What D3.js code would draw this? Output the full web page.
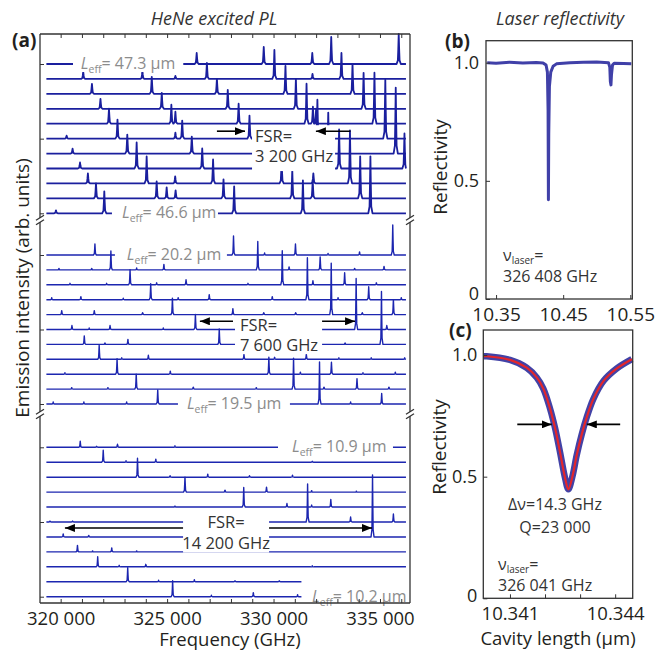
<!DOCTYPE html>
<html>
<head>
<meta charset="utf-8">
<script src="https://cdn.jsdelivr.net/npm/d3@7"></script>
<style>
  body { margin: 0; background: #fff; }
  text { font-family: "Open Sans", sans-serif; }
</style>
</head>
<body>
<div id="chart"></div>
<script>
// ---------- data ----------
const freqTicks = [320000, 325000, 330000, 335000];
const traceSpan = [319330, 336220];

// peaks per trace: [frequency (GHz), height (arb. units)], top trace first
const peaksLong = [
  [[326390,1.1],[329540,1.7],[331820,1.1],[332710,2.7],[335880,3.0]],
  [[321060,0.7],[323840,0.8],[325390,0.3],[326870,1.6],[330040,2.9],[331830,0.5],[333190,2.6]],
  [[321470,1.0],[324280,1.7],[327340,1.5],[330560,2.8],[333710,3.0]],
  [[321870,1.0],[324750,1.6],[327850,1.9],[331050,3.0],[334230,3.6]],
  [[322270,1.5],[325200,1.9],[325390,1.2],[328360,2.0],[331550,4.0],[331850,1.7],[332000,1.5],[334740,5.1]],
  [[320280,0.3],[322670,1.9],[325390,0.6],[325710,1.8],[328870,2.3],[332060,3.9],[335250,5.9]],
  [[320560,0.5],[323130,1.9],[326160,1.7],[329350,2.2],[332570,4.1],[335740,6.6]],
  [[320910,0.6],[323570,2.6],[326650,2.0],[329870,2.4],[333080,3.9],[336150,3.5]],
  [[321280,1.0],[324040,2.7],[325380,0.7],[327160,2.4],[330380,2.3],[331870,1.0],[333590,5.3]],
  [[321660,1.5],[324510,1.7],[324980,1.1],[325400,0.8],[327650,1.9],[330880,2.8],[331840,1.8],[334070,4.2]],
  [[319780,0.3],[322050,2.2],[328150,2.7],[331380,3.3],[334550,5.7]]
];
const peaksMid = [
  [[321610,1.1],[328120,1.9],[329580,0.2],[331030,1.1],[332560,0.15],[334040,0.3],[335600,3.0]],
  [[319920,0.15],[321460,0.15],[322360,1.9],[323570,0.2],[324850,0.55],[329260,2.85],[330730,0.3],[332190,1.3],[333810,0.15],[335190,0.35]],
  [[320440,0.15],[322160,0.15],[323260,1.5],[324510,0.2],[325890,0.5],[328800,0.15],[330410,3.4],[331850,0.4],[333340,1.2],[334830,0.2]],
  [[319580,0.2],[320950,0.3],[322940,0.15],[324230,1.6],[325520,0.2],[326980,0.5],[329940,0.3],[331590,4.2],[333030,0.2],[334470,1.3],[336000,0.2]],
  [[320050,0.4],[321580,0.4],[323850,0.2],[325250,1.65],[328090,0.6],[329540,0.2],[331040,0.2],[332710,5.15],[334170,0.2],[335630,1.5]],
  [[320530,0.4],[321340,0.15],[322320,0.4],[324820,0.15],[326330,1.5],[333880,5.1],[335320,0.4]],
  [[321110,0.85],[322080,0.15],[323160,0.5],[327450,1.55],[333360,0.15],[335070,5.3]],
  [[321810,1.4],[322870,0.15],[324120,0.4],[328610,0.5],[330050,0.2],[331540,0.5],[333070,0.15],[334590,0.15],[336160,0.15]],
  [[320200,0.15],[322650,1.55],[325150,0.3],[329780,1.7],[331260,0.2],[332720,1.2],[334200,0.15],[335720,0.2]],
  [[320520,0.15],[322220,0.15],[323550,1.5],[326230,0.2],[329190,0.15],[330940,3.1],[332370,0.2],[333920,1.05],[335420,0.2]],
  [[319650,0.2],[321090,0.2],[323100,0.2],[324560,1.4],[332160,4.2],[333620,0.2],[335080,1.05]]
];
const peaksShort = [
  [[320920,0.6],[321690,0.1],[322670,0.3],[325370,0.15]],
  [[322000,1.2],[323070,0.15],[324470,0.3],[331820,0.1]],
  [[323610,1.9],[325140,0.15],[326910,0.3],[328870,0.15],[330890,0.2]],
  [[325840,1.5],[327720,0.2],[329670,0.5],[331790,0.15],[333890,0.1]],
  [[325370,0.1],[328600,1.95],[330630,0.35],[331790,0.2],[332690,0.75]],
  [[319500,0.1],[320560,0.1],[331600,3.8],[333620,0.5],[335630,0.8]],
  [[320120,0.3],[321320,0.15],[334650,6.2]],
  [[320790,0.65],[321500,0.1],[322400,0.4],[323570,0.1]],
  [[321740,1.0],[322750,0.15],[324000,0.25],[331820,0.1]],
  [[323150,1.4],[324600,0.15],[326280,0.2],[328190,0.1],[330270,0.1]],
  [[325260,1.6],[327080,0.15],[329050,0.4],[331130,0.2]]
];
const shortTraceEnds = [336220,336220,336220,336220,336220,336220,336220,336220,336220,331310,331310];

const leffTop = ["47.3", "20.2", "10.9"];
const leffBottom = ["46.6", "19.5", "10.2"];
const fsrText = ["3 200 GHz", "7 600 GHz", "14 200 GHz"];

// panel (b): laser reflectivity vs cavity length (um)
const lenB = [10.3368,10.350,10.370,10.390,10.410,10.420,10.4245,10.4265,10.4275,10.4280,10.4285,10.4295,10.4315,10.4350,10.4400,10.460,10.480,10.500,10.5175,10.5195,10.5203,10.5212,10.5220,10.5235,10.5260,10.540,10.5515];
const reflB = [1.000,0.998,1.002,0.999,1.001,0.999,0.990,0.960,0.800,0.420,0.700,0.900,0.960,0.985,0.995,1.000,1.002,1.003,1.000,0.980,0.920,0.906,0.950,0.990,0.998,0.996,0.995];

// panel (c): zoom on one resonance, fit
const lenC = [10.340243,10.340334,10.341000,10.341477,10.341763,10.341951,10.342143,10.342286,10.342429,10.342571,10.342666,10.342780,10.342906,10.343049,10.343191,10.343380,10.343666,10.344049,10.344477];
const reflC = [0.995,0.995,0.980,0.948,0.908,0.862,0.780,0.700,0.600,0.495,0.448,0.500,0.590,0.675,0.745,0.820,0.893,0.945,0.983];

// ---------- drawing ----------
const W = 663, H = 652;
const svg = d3.select('#chart').append('svg')
    .attr('width', W).attr('height', H)
    .attr('viewBox', `0 0 ${W} ${H}`);

const dark = '#333';
const blue = '#1c26b0';
const ink = '#231f20';

// arrow marker
svg.append('defs').append('marker')
    .attr('id', 'arr')
    .attr('viewBox', '0 0 10 8')
    .attr('refX', 10).attr('refY', 4)
    .attr('markerWidth', 10).attr('markerHeight', 8)
    .attr('markerUnits', 'userSpaceOnUse')
    .attr('orient', 'auto')
    .append('path').attr('d', 'M0,0 L10,4 L0,8 Z').attr('fill', '#000');

// ===== panel (a) =====
const x = d3.scaleLinear().domain([319030, 336410]).range([40, 410]);
const amp = d3.scaleLinear().domain([0, 1]).range([0, 10]);

const sections = [
  {peaks: peaksLong, base: d3.scaleLinear().domain([0, 10]).range([64, 213.3]), w: 20, sw: 1.8, col: '#1a1f9e', ends: null},
  {peaks: peaksMid, base: d3.scaleLinear().domain([0, 10]).range([255, 404]), w: 14, sw: 1.4, col: blue, ends: null},
  {peaks: peaksShort, base: d3.scaleLinear().domain([0, 10]).range([447.3, 596.7]), w: 14, sw: 1.4, col: blue, ends: shortTraceEnds}
];

const line = d3.line().x(d => x(d[0])).y(d => d[1]);

function tracePoints(peaks, f0, f1, w) {
  let pts = [[f0, 0]];
  peaks.forEach(([f, h]) => {
    pts.push([f - 5 * w, 0], [f - 2 * w, 0.12 * h], [f - w, 0.5 * h], [f, h],
             [f + w, 0.5 * h], [f + 2 * w, 0.12 * h], [f + 5 * w, 0]);
  });
  pts.push([f1, 0]);
  pts = pts.filter(p => p[0] >= f0 && p[0] <= f1);
  pts.sort((a, b) => a[0] - b[0]);
  return pts;
}

const gA = svg.append('g');

sections.forEach((s, si) => {
  s.peaks.forEach((pk, i) => {
    const f1 = s.ends ? s.ends[i] : traceSpan[1];
    const pts = tracePoints(pk, traceSpan[0], f1, s.w)
        .map(p => [p[0], s.base(i) - amp(p[1])]);
    gA.append('path')
        .attr('d', line(pts))
        .attr('fill', 'none')
        .attr('stroke', s.col)
        .attr('stroke-width', s.sw)
        .attr('stroke-linejoin', 'round');
  });
});

// L_eff labels (white box hides trace underneath)
const leffBoxes = [
  {s: 0, i: 0, x0: 320580, x1: 325760, tx: 320950, v: leffTop[0]},
  {s: 0, i: 10, x0: 322410, x1: 327390, tx: 322880, v: leffBottom[0]},
  {s: 1, i: 0, x0: 322550, x1: 327810, tx: 323110, v: leffTop[1]},
  {s: 1, i: 10, x0: 325510, x1: 330770, tx: 325930, v: leffBottom[1]},
  {s: 2, i: 0, x0: 330210, x1: 335610, tx: 330870, v: leffTop[2]},
  {s: 2, i: 10, x0: 331340, x1: 336300, tx: 331810, v: leffBottom[2]}
];
leffBoxes.forEach(b => {
  const y0 = sections[b.s].base(b.i);
  gA.append('rect')
      .attr('x', x(b.x0)).attr('y', y0 - 13)
      .attr('width', x(b.x1) - x(b.x0)).attr('height', 21)
      .attr('fill', '#fff');
  const t = gA.append('text')
      .attr('x', x(b.tx)).attr('y', y0 + 5)
      .attr('font-size', 16).attr('fill', '#8c8c8c');
  t.append('tspan').attr('font-style', 'italic').text('L');
  t.append('tspan').attr('font-size', 10.5).attr('dy', 4).text('eff');
  t.append('tspan').attr('dy', -4).text('= ' + b.v + ' \u03BCm');
});

// FSR annotations
const fsrBoxes = [
  {s: 0, x0: 328990, x1: 332890, y0: 4.1, y1: 7.17, tx: 329130, ty: [5.2, 6.55], anchor: 'start',
   arrows: [[327340, 328660], [333615, 331990]], ay: 4.5},
  {s: 1, x0: 328190, x1: 332280, y0: 4.1, y1: 6.65, tx: 328420, ty: [5.1, 6.45], anchor: 'start',
   arrows: [[328095, 326540], [332280, 333830]], ay: 4.45},
  {s: 2, x0: 325750, x1: 329790, y0: 4.4, y1: 7.05, tx: 327770, ty: [5.4, 6.8], anchor: 'middle',
   arrows: [[325750, 320200], [329790, 334625]], ay: 5.4}
];
fsrBoxes.forEach((b, k) => {
  const sc = sections[b.s].base;
  gA.append('rect')
      .attr('x', x(b.x0)).attr('y', sc(b.y0))
      .attr('width', x(b.x1) - x(b.x0)).attr('height', sc(b.y1) - sc(b.y0))
      .attr('fill', '#fff');
  gA.append('text').attr('x', x(b.tx)).attr('y', sc(b.ty[0]))
      .attr('text-anchor', b.anchor).attr('font-size', 16.5).attr('fill', dark).text('FSR=');
  gA.append('text').attr('x', x(b.tx)).attr('y', sc(b.ty[1]))
      .attr('text-anchor', b.anchor).attr('font-size', 16.5).attr('fill', dark).text(fsrText[k]);
  b.arrows.forEach(a => {
    gA.append('line')
        .attr('x1', x(a[0])).attr('x2', x(a[1]))
        .attr('y1', sc(b.ay)).attr('y2', sc(b.ay))
        .attr('stroke', '#000').attr('stroke-width', 1.6)
        .attr('marker-end', 'url(#arr)');
  });
});

// frame with axis breaks
const yTop = 34, yBottom = 603, breaks = [220, 414];
const frame = gA.append('g').attr('stroke', dark).attr('stroke-width', 1.3).attr('fill', 'none');
frame.append('line').attr('x1', 40).attr('x2', 410).attr('y1', yTop).attr('y2', yTop);
frame.append('line').attr('x1', 40).attr('x2', 410).attr('y1', yBottom).attr('y2', yBottom);
[40, 410].forEach(xx => {
  const segs = [[yTop, breaks[0] - 2], [breaks[0] + 2, breaks[1] - 2], [breaks[1] + 2, yBottom]];
  segs.forEach(sg => frame.append('line').attr('x1', xx).attr('x2', xx).attr('y1', sg[0]).attr('y2', sg[1]));
  breaks.forEach(by => {
    [-2.2, 2.2].forEach(d => {
      frame.append('line')
          .attr('x1', xx - 4).attr('y1', by + d + 2.5)
          .attr('x2', xx + 4).attr('y2', by + d - 2.5);
    });
  });
});

// left ticks at traces 1, 6, 11 of each block
sections.forEach(s => {
  gA.append('g')
      .attr('transform', 'translate(40,0)')
      .call(d3.axisLeft(s.base).tickValues([0, 5, 10]).tickSize(-4).tickFormat(''))
      .call(g => g.select('.domain').remove())
      .call(g => g.selectAll('text').remove())
      .attr('color', dark);
});

const minorFreq = d3.range(320000, 336001, 1000);
gA.append('g')
    .attr('transform', `translate(0,${yTop})`)
    .call(d3.axisTop(x).tickValues(minorFreq).tickSize(-4).tickFormat(''))
    .call(g => g.select('.domain').remove())
    .call(g => g.selectAll('text').remove())
    .attr('color', dark);

const fmtGHz = d => d3.format(',')(d).replace(/,/g, ' ');
gA.append('g')
    .attr('transform', `translate(0,${yBottom})`)
    .call(d3.axisBottom(x).tickValues(minorFreq).tickSize(-4).tickPadding(9).tickFormat(fmtGHz))
    .call(g => g.select('.domain').remove())
    .call(g => g.selectAll('text').filter(d => !freqTicks.includes(d)).remove())
    .attr('color', dark)
    .attr('font-size', 18.5).attr('font-family', '"Open Sans", sans-serif')
    .selectAll('text').attr('fill', ink);

gA.append('text').attr('x', 230).attr('y', 646).attr('text-anchor', 'middle')
    .attr('font-size', 18.5).attr('fill', ink).text('Frequency (GHz)');
gA.append('text').attr('transform', 'translate(29,288) rotate(-90)').attr('text-anchor', 'middle')
    .attr('font-size', 19).attr('fill', ink).text('Emission intensity (arb. units)');
gA.append('text').attr('x', 214).attr('y', 25).attr('text-anchor', 'middle')
    .attr('font-size', 18).attr('font-style', 'italic').attr('fill', dark).text('HeNe excited PL');
gA.append('text').attr('x', 12).attr('y', 47)
    .attr('font-size', 19).attr('font-weight', 'bold').attr('fill', ink).text('(a)');

// ===== panel (b) =====
const xb = d3.scaleLinear().domain([10.335, 10.553]).range([486, 632.3]);
const yb = d3.scaleLinear().domain([0, 1.093]).range([299, 40.7]);
const gB = svg.append('g');

gB.append('path')
    .attr('d', d3.line().x((d, i) => xb(lenB[i])).y(d => yb(d))(reflB))
    .attr('fill', 'none').attr('stroke', '#4040a8').attr('stroke-width', 3)
    .attr('stroke-linejoin', 'round');

gB.append('rect').attr('x', 486).attr('y', 40.7).attr('width', 632.3 - 486).attr('height', 299 - 40.7)
    .attr('fill', 'none').attr('stroke', dark).attr('stroke-width', 1.3);

gB.append('g').attr('transform', 'translate(486,0)')
    .call(d3.axisLeft(yb).tickValues([0, 0.5, 1]).tickSize(-4).tickPadding(7)
        .tickFormat(d => d === 0 ? '0' : d.toFixed(1)))
    .call(g => g.select('.domain').remove())
    .call(g => g.selectAll('text').filter(d => d === 0).attr('dy', '0.05em'))
    .attr('color', dark).attr('font-size', 18).attr('font-family', '"Open Sans", sans-serif')
    .selectAll('text').attr('fill', ink);
gB.append('g').attr('transform', 'translate(0,299)')
    .call(d3.axisBottom(xb).tickValues([10.35, 10.45, 10.55]).tickSize(-4).tickPadding(9)
        .tickFormat(d3.format('.2f')))
    .call(g => g.select('.domain').remove())
    .attr('color', dark).attr('font-size', 19).attr('font-family', '"Open Sans", sans-serif')
    .selectAll('text').attr('fill', ink);

gB.append('text').attr('transform', 'translate(447,167) rotate(-90)').attr('text-anchor', 'middle')
    .attr('font-size', 19).attr('fill', ink).text('Reflectivity');
gB.append('text').attr('x', 560).attr('y', 25).attr('text-anchor', 'middle')
    .attr('font-size', 18).attr('font-style', 'italic').attr('fill', dark).text('Laser reflectivity');
gB.append('text').attr('x', 445).attr('y', 48)
    .attr('font-size', 19).attr('font-weight', 'bold').attr('fill', ink).text('(b)');

function nuLabel(g, x0, y0, val) {
  const t = g.append('text').attr('x', x0).attr('y', y0).attr('font-size', 16).attr('fill', dark);
  t.append('tspan').text('\u03BD');
  t.append('tspan').attr('font-size', 10).attr('dy', 3).text('laser');
  t.append('tspan').attr('dy', -3).text('=');
  g.append('text').attr('x', x0).attr('y', y0 + 21).attr('font-size', 16).attr('fill', dark).text(val);
}
nuLabel(gB, 503, 261, '326 408 GHz');

// ===== panel (c) =====
const xc = d3.scaleLinear().domain([10.34024, 10.3445]).range([483.3, 632.7]);
const yc = d3.scaleLinear().domain([0, 1.103]).range([598.3, 330]);
const gC = svg.append('g');
const lineC = d3.line().x((d, i) => xc(lenC[i])).y(d => yc(d)).curve(d3.curveCatmullRom);

gC.append('path').attr('d', lineC(reflC))
    .attr('fill', 'none').attr('stroke', '#4242a6').attr('stroke-width', 6.5)
    .attr('stroke-linejoin', 'round');
gC.append('path').attr('d', lineC(reflC))
    .attr('fill', 'none').attr('stroke', '#e3262b').attr('stroke-width', 2.2);

// FWHM arrows
[[10.341209, 10.342191], [10.344143, 10.343191]].forEach(a => {
  gC.append('line')
      .attr('x1', xc(a[0])).attr('x2', xc(a[1]))
      .attr('y1', yc(0.715)).attr('y2', yc(0.715))
      .attr('stroke', '#000').attr('stroke-width', 1.6)
      .attr('marker-end', 'url(#arr)');
});

gC.append('rect').attr('x', 483.3).attr('y', 330).attr('width', 632.7 - 483.3).attr('height', 598.3 - 330)
    .attr('fill', 'none').attr('stroke', dark).attr('stroke-width', 1.3);

gC.append('g').attr('transform', 'translate(483.3,0)')
    .call(d3.axisLeft(yc).tickValues([0, 0.5, 1]).tickSize(-4).tickPadding(6)
        .tickFormat(d => d === 0 ? '0' : d.toFixed(1)))
    .call(g => g.select('.domain').remove())
    .call(g => g.selectAll('text').filter(d => d === 0).attr('dy', '0.15em'))
    .attr('color', dark).attr('font-size', 18).attr('font-family', '"Open Sans", sans-serif')
    .selectAll('text').attr('fill', ink);
const cTicks = [10.341, 10.342, 10.343, 10.344];
gC.append('g').attr('transform', 'translate(0,598.3)')
    .call(d3.axisBottom(xc).tickValues(cTicks).tickSize(-4).tickPadding(9)
        .tickFormat(d => d.toFixed(3)))
    .call(g => g.select('.domain').remove())
    .call(g => g.selectAll('text').filter((d, i) => i === 1 || i === 2).remove())
    .attr('color', dark).attr('font-size', 18.5).attr('font-family', '"Open Sans", sans-serif')
    .selectAll('text').attr('fill', ink);

gC.append('text').attr('transform', 'translate(446,447) rotate(-90)').attr('text-anchor', 'middle')
    .attr('font-size', 19).attr('fill', ink).text('Reflectivity');
gC.append('text').attr('x', 558).attr('y', 645).attr('text-anchor', 'middle')
    .attr('font-size', 18.5).attr('fill', ink).text('Cavity length (\u03BCm)');
gC.append('text').attr('x', 449).attr('y', 337)
    .attr('font-size', 19).attr('font-weight', 'bold').attr('fill', ink).text('(c)');
gC.append('text').attr('x', 555).attr('y', 510).attr('text-anchor', 'middle')
    .attr('font-size', 16).attr('fill', dark).text('\u0394\u03BD=14.3 GHz');
gC.append('text').attr('x', 555).attr('y', 533).attr('text-anchor', 'middle')
    .attr('font-size', 16).attr('fill', dark).text('Q=23 000');
nuLabel(gC, 498, 570, '326 041 GHz');
</script>
</body>
</html>
